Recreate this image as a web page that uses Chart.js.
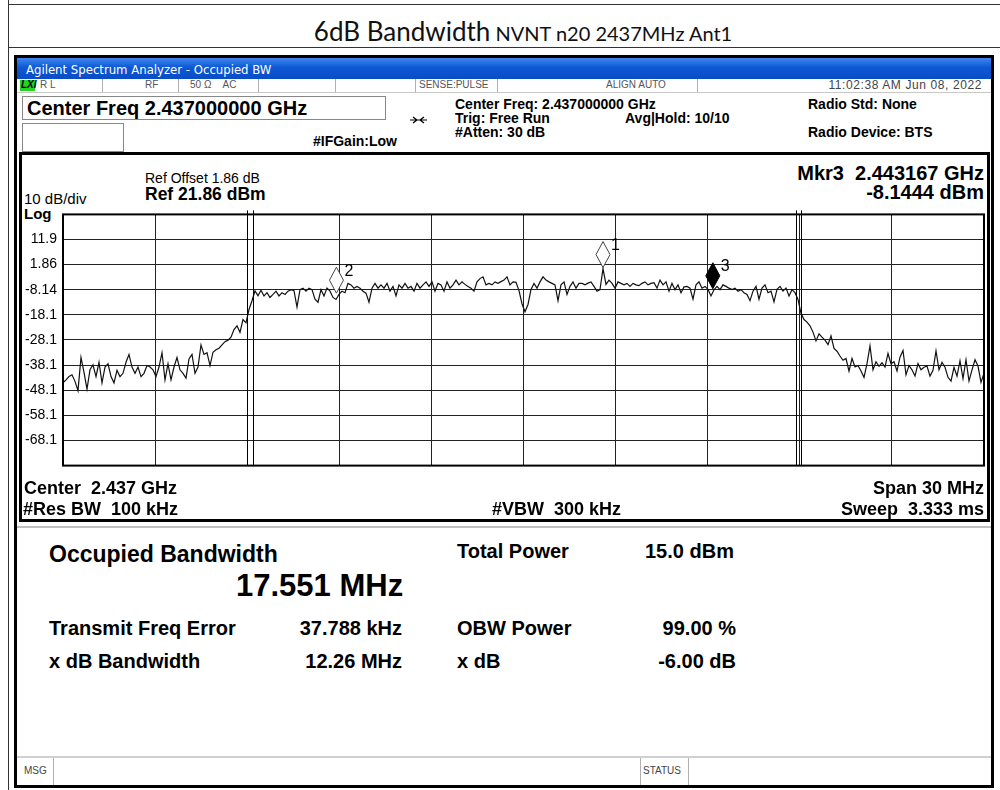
<!DOCTYPE html>
<html>
<head>
<meta charset="utf-8">
<script src="https://cdn.jsdelivr.net/npm/chart.js@4.4.1/dist/chart.umd.min.js"></script>
<style>
  html,body{margin:0;padding:0;background:#fff;}
  body{width:1000px;height:790px;position:relative;overflow:hidden;font-family:"Liberation Sans",Arial,sans-serif;}
  .a{position:absolute;white-space:nowrap;line-height:1;}
  .b{font-weight:bold;}
  .r{text-align:right;}
  .box{position:absolute;box-sizing:border-box;}
  .sep{position:absolute;width:1px;background:#b0b0b0;}
</style>
</head>
<body>
<!-- document frame -->
<div class="box" style="left:8px;top:0;width:1px;height:790px;background:#333;"></div>
<div class="box" style="left:8px;top:4px;width:992px;height:1px;background:#333;"></div>
<div class="box" style="left:8px;top:47px;width:992px;height:1px;background:#333;"></div>
<div class="a" style="left:0;width:1046px;top:18px;text-align:center;font-family:Lato,'Open Sans',sans-serif;color:#111;">
  <span style="font-size:26px;">6dB Bandwidth</span><span style="font-size:20px;"> NVNT n20 2437MHz Ant1</span>
</div>

<!-- analyzer window -->
<div class="box" style="left:14px;top:55px;width:980px;height:733px;border:3px solid #000;background:#fff;"></div>
<div class="box" style="left:17px;top:58px;width:974px;height:21px;background:linear-gradient(#3f86ee,#0d58d6 45%,#0a4cc4);"></div>
<div class="a" style="left:26px;top:63px;font-size:13px;color:#fff;font-family:'DejaVu Sans Condensed','Liberation Sans',sans-serif;">Agilent Spectrum Analyzer - Occupied BW</div>

<!-- status row -->
<div class="box" style="left:17px;top:79px;width:974px;height:14px;background:#fff;border-bottom:1px solid #c8c8c8;"></div>
<div class="box" style="left:20px;top:80px;width:15px;height:11px;background:#22d322;"></div>
<div class="a b" style="left:21px;top:80px;font-size:10px;font-style:italic;color:#000;">LXI</div>
<div class="a" style="left:40px;top:80px;font-size:10px;color:#555;">R L</div>
<div class="sep" style="left:102px;top:79px;height:13px;"></div>
<div class="a" style="left:145px;top:80px;font-size:10px;color:#555;">RF</div>
<div class="sep" style="left:178px;top:79px;height:13px;"></div>
<div class="a" style="left:190px;top:80px;font-size:10px;color:#555;">50 Ω&nbsp;&nbsp;&nbsp;&nbsp;AC</div>
<div class="sep" style="left:258px;top:79px;height:13px;"></div>
<div class="sep" style="left:335px;top:79px;height:13px;"></div>
<div class="sep" style="left:415px;top:79px;height:13px;"></div>
<div class="a" style="left:419px;top:80px;font-size:10px;color:#555;">SENSE:PULSE</div>
<div class="sep" style="left:497px;top:79px;height:13px;"></div>
<div class="a" style="left:606px;top:80px;font-size:10px;color:#555;">ALIGN AUTO</div>
<div class="sep" style="left:697px;top:79px;height:13px;"></div>
<div class="a r" style="right:18px;top:79px;font-size:12px;letter-spacing:0.6px;color:#444;">11:02:38 AM Jun 08, 2022</div>

<!-- center freq row -->
<div class="box" style="left:22px;top:96px;width:364px;height:24px;border:1px solid #888;"></div>
<div class="a b" style="left:27px;top:98px;font-size:20px;color:#000;">Center Freq 2.437000000 GHz</div>
<div class="box" style="left:22px;top:123px;width:102px;height:29px;border:1px solid #888;"></div>
<div class="a b" style="left:313px;top:134px;font-size:14px;color:#000;">#IFGain:Low</div>
<svg style="position:absolute;left:410px;top:116px;" width="18" height="8"><path d="M0 4H17M3 1L7 4L3 7M14 1L10 4L14 7" stroke="#000" fill="none" stroke-width="1.2"/></svg>
<div class="a b" style="left:455px;top:97px;font-size:14px;">Center Freq: 2.437000000 GHz</div>
<div class="a b" style="left:455px;top:111px;font-size:14px;">Trig: Free Run</div>
<div class="a b" style="left:625px;top:111px;font-size:14px;">Avg|Hold: 10/10</div>
<div class="a b" style="left:455px;top:125px;font-size:14px;">#Atten: 30 dB</div>
<div class="a b" style="left:808px;top:97px;font-size:14px;">Radio Std: None</div>
<div class="a b" style="left:808px;top:125px;font-size:14px;">Radio Device: BTS</div>

<!-- plot frame -->
<div class="box" style="left:19px;top:152px;width:971px;height:370px;border:3px solid #000;"></div>
<div class="a" style="left:145px;top:171px;font-size:14px;">Ref Offset 1.86 dB</div>
<div class="a b" style="left:145px;top:186px;font-size:17.5px;">Ref 21.86 dBm</div>
<div class="a" style="left:24px;top:191px;font-size:15px;">10 dB/div</div>
<div class="a b" style="left:24px;top:206px;font-size:15px;">Log</div>
<div class="a b r" style="right:16px;top:163px;font-size:20px;">Mkr3&nbsp;&nbsp;2.443167 GHz</div>
<div class="a b r" style="right:16px;top:182px;font-size:20px;">-8.1444 dBm</div>

<canvas id="c" width="972" height="280" style="position:absolute;left:16px;top:200px;"></canvas>

<div class="a b" style="left:24px;top:479px;font-size:18px;">Center&nbsp; 2.437 GHz</div>
<div class="a b" style="left:23px;top:500px;font-size:18px;">#Res BW&nbsp; 100 kHz</div>
<div class="a b" style="left:492px;top:500px;font-size:18px;">#VBW&nbsp; 300 kHz</div>
<div class="a b r" style="right:16px;top:479px;font-size:18px;">Span 30 MHz</div>
<div class="a b r" style="right:16px;top:500px;font-size:18px;">Sweep&nbsp; 3.333 ms</div>

<!-- results -->
<div class="box" style="left:17px;top:526px;width:974px;height:2px;background:#c0c0c0;"></div>
<div class="a b" style="left:49px;top:543px;font-size:23px;">Occupied Bandwidth</div>
<div class="a b" style="left:236px;top:570px;font-size:31px;">17.551 MHz</div>
<div class="a b" style="left:457px;top:541px;font-size:20px;">Total Power</div>
<div class="a b" style="left:645px;top:541px;font-size:20px;">15.0 dBm</div>
<div class="a b" style="left:49px;top:618px;font-size:20px;">Transmit Freq Error</div>
<div class="a b r" style="right:598px;top:618px;font-size:20px;">37.788 kHz</div>
<div class="a b" style="left:457px;top:618px;font-size:20px;">OBW Power</div>
<div class="a b r" style="right:264px;top:618px;font-size:20px;">99.00 %</div>
<div class="a b" style="left:49px;top:651px;font-size:20px;">x dB Bandwidth</div>
<div class="a b r" style="right:598px;top:651px;font-size:20px;">12.26 MHz</div>
<div class="a b" style="left:457px;top:651px;font-size:20px;">x dB</div>
<div class="a b r" style="right:264px;top:651px;font-size:20px;">-6.00 dB</div>

<!-- message bar -->
<div class="box" style="left:17px;top:756px;width:974px;height:29px;border-top:2px solid #d0d0d0;background:#fff;"></div>
<div class="sep" style="left:53px;top:758px;height:27px;"></div>
<div class="sep" style="left:640px;top:758px;height:27px;"></div>
<div class="sep" style="left:688px;top:758px;height:27px;"></div>
<div class="a" style="left:24px;top:766px;font-size:10px;color:#444;">MSG</div>
<div class="a" style="left:643px;top:766px;font-size:10px;color:#444;">STATUS</div>

<script>
// ---- data ----
const startMHz = 2422;          // Center 2.437 GHz, Span 30 MHz
const stopMHz = 2452;
const xGridMHz = [2422, 2425, 2428, 2431, 2434, 2437, 2440, 2443, 2446, 2449, 2452];
const yGridDbm = [21.86, 11.86, 1.86, -8.14, -18.14, -28.14, -38.14, -48.14, -58.14, -68.14, -78.14];
const yTickLabels = ["", "11.9", "1.86", "-8.14", "-18.1", "-28.1", "-38.1", "-48.1", "-58.1", "-68.1", ""];

// trace level (dBm), sweep points equally spaced across the span
const traceDbm = [
  -45.2,-44,-42.7,-42,-44.6,-48.3,-35.1,-41,-47.7,-40,
  -38,-42.7,-37,-45.2,-38.9,-37.6,-42.7,-45.2,-40.2,-42.7,
  -41.4,-37,-33.9,-38.9,-41.4,-38.9,-42.7,-41.4,-38.3,-38.9,
  -40,-42.7,-38.9,-33.2,-44,-37.6,-44,-38.9,-35.1,-40,
  -41.4,-43.3,-35.7,-33.9,-41.4,-38.9,-30.1,-33.9,-33.2,-38.3,
  -33,-32,-31.4,-30.1,-28.8,-28.2,-27,-24,-22.5,-25.1,
  -20,-21.3,-16,-12.5,-8.6,-10.5,
  -8.3,-10.6,-9.3,-11.2,-10,-8.7,-10.6,-9.3,-10,-8.7,
  -8.1,-8.5,-15,-8.1,-7.5,-8.7,-7.5,-8.1,-11.9,-13.1,
  -8.1,-10.6,-7.5,-8.7,-11.2,-12,-10,-8.7,-9.3,-5.6,
  -6.2,-7.5,-6.8,-7.5,-8.7,-9.5,-13.1,-7.5,-5.6,-7.5,
  -6.2,-7.5,-5.6,-8.7,-6.8,-10.6,-6.2,-7.5,-5.6,-7.5,
  -6.8,-8.7,-5.6,-7.5,-6.2,-5,-6.8,-5,-8.7,-5.6,
  -6.2,
  -8.7,-5,-7.5,-6.2,-4.3,-6.2,-5,-6,-6.8,-7.5,
  -8.7,-5,-3.7,-3,-6.2,-5.6,-6.2,-5,-5.6,-4.9,
  -4.3,-3,-6.2,-5,-5.2,-8.5,-13.7,-16.9,-14,-8,
  -5.6,-7.5,-5,-3,-4.3,-5,-5.6,-6.2,-12.5,-6.2,
  -5,-10,-6.8,-5,-7.5,-5.6,-5.6,-6.2,-5.5,-5,
  -6.8,-8.7,-8.1,0.3,-6,-4.3,-5.6,-7.5,-5,-5.6,
  -6.2,-5.6,-6.8,-5.6,-6.2,
  -6.5,-5.6,-5,-6.2,-5.6,-5.3,-7.5,-4.3,-6.2,-5,
  -8.7,-5.6,-8.1,-6.2,-9.3,-7,-6.8,-7.5,-11.9,-6.2,
  -5,-7.5,-6.8,-8,-10.6,-8.1444,-6.8,-8.1,-6.2,-6.8,
  -7.5,-8.1,-7.5,-8.7,-8.1,-9.3,-10,-12.5,-8.7,-6.8,
  -11.9,-7.5,-6.2,-9.3,-8.7,-13,-8,-6.8,-8.7,-7.5,
  -10.6,-8.1,-9.3,-12,
  -17.5,-20,-21,-22.5,-25,-28.5,-25.7,-27,-28.2,-30,
  -26.5,-31.5,-32.6,-34.5,-36.2,-35.5,-40.5,-35.5,-38.9,-38.3,
  -40.5,-43,-37.5,-30.5,-40,-36.8,-38.6,-37.2,-38.9,-33.5,
  -37.6,-36.8,-40.5,-35,-32.3,-42,-38.3,-40,-42.5,-37.5,
  -40,-39,-38.5,-42.5,-40.2,-32.5,-40,-37,-39,-43,
  -44.5,-39,-42.5,-36.4,-43.5,-36,-44.5,-40,-36,-38.5,
  -45,-41.4
];

// markers
const markerNames = ["1", "2", "3"];
const markerMHz = [2439.59, 2430.907, 2443.167];
const markerDbm = [0.3, -9.9, -8.1444];
const markerFilled = [false, false, true];

// occupied-bandwidth / x dB boundary lines
const boundaryMHz = [2427.99, 2428.19, 2445.87, 2446.04];

// ---- chart ----
const sweepStep = (stopMHz - startMHz) / (traceDbm.length - 1);
const points = traceDbm.map((v, i) => ({ x: startMHz + i * sweepStep, y: v }));

const overlay = {
  id: 'overlay',
  afterDatasetsDraw(chart) {
    const { ctx, chartArea: a, scales: { x, y } } = chart;
    ctx.save();
    ctx.strokeStyle = '#000';
    ctx.lineWidth = 1;
    boundaryMHz.forEach(f => {
      const px = Math.round(x.getPixelForValue(f)) + 0.5;
      ctx.beginPath(); ctx.moveTo(px, a.top - 4); ctx.lineTo(px, a.bottom); ctx.stroke();
    });
    ctx.lineWidth = 2;
    ctx.strokeRect(a.left, a.top, a.right - a.left, a.bottom - a.top);
    markerNames.forEach((n, i) => {
      const px = x.getPixelForValue(markerMHz[i]);
      const py = y.getPixelForValue(markerDbm[i]);
      const w = 7, h = 26;
      ctx.beginPath();
      ctx.moveTo(px, py - 1);
      ctx.lineTo(px + w, py - 1 - h / 2);
      ctx.lineTo(px, py - 1 - h);
      ctx.lineTo(px - w, py - 1 - h / 2);
      ctx.closePath();
      ctx.fillStyle = markerFilled[i] ? '#000' : '#fff';
      ctx.fill();
      ctx.lineWidth = 1;
      ctx.strokeStyle = markerFilled[i] ? '#000' : '#444';
      ctx.stroke();
      ctx.fillStyle = '#000';
      ctx.font = '16px "Liberation Sans", Arial, sans-serif';
      ctx.textBaseline = 'top';
      ctx.fillText(n, px + w + 1, py - 1 - h - 4);
    });
    ctx.restore();
  }
};

new Chart(document.getElementById('c'), {
  type: 'line',
  data: {
    datasets: [{
      data: points,
      borderColor: '#111',
      borderWidth: 1.2,
      pointRadius: 0,
      tension: 0,
      fill: false
    }]
  },
  options: {
    responsive: false,
    animation: false,
    devicePixelRatio: 1,
    layout: { padding: { top: 9, right: 4, bottom: 6, left: 0 } },
    plugins: { legend: { display: false }, tooltip: { enabled: false } },
    scales: {
      x: {
        type: 'linear', min: startMHz, max: stopMHz,
        afterBuildTicks: s => { s.ticks = xGridMHz.map(v => ({ value: v })); },
        afterFit: s => { s.height = 0; },
        ticks: { display: false },
        grid: { color: '#222', lineWidth: 1, drawTicks: false },
        border: { display: false }
      },
      y: {
        type: 'linear', min: yGridDbm[yGridDbm.length - 1], max: yGridDbm[0],
        afterBuildTicks: s => { s.ticks = yGridDbm.map(v => ({ value: v })); },
        afterFit: s => { s.width = 47; },
        ticks: {
          padding: 6, color: '#000',
          font: { family: '"Liberation Sans", Arial, sans-serif', size: 14 },
          callback: (v, i) => yTickLabels[i]
        },
        grid: { color: '#222', lineWidth: 1, drawTicks: false },
        border: { display: false }
      }
    }
  },
  plugins: [overlay]
});
</script>
</body>
</html>
